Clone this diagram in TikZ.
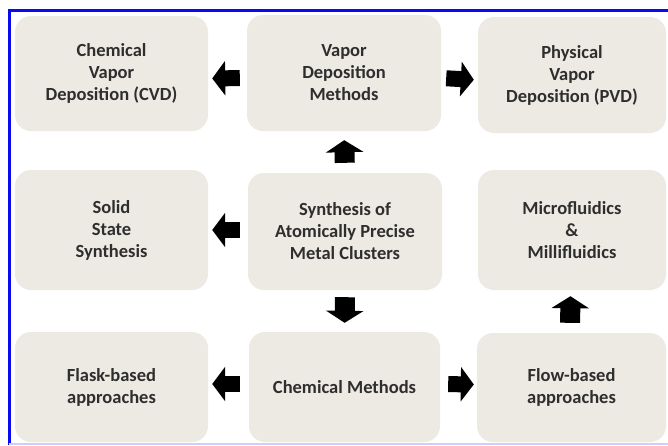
\documentclass[tikz,border=0pt]{standalone}
\usepackage{fontspec}
\setmainfont{Carlito}
\usetikzlibrary{arrows.meta}
\definecolor{boxfill}{HTML}{ECEAE2}
\definecolor{frameblue}{HTML}{0A0AF0}
\tikzset{
  box/.style={fill=boxfill, rounded corners=16pt, align=center,
    font=\fontsize{18.5}{22}\selectfont\bfseries, text=black!82, inner sep=0pt},
  harrow/.style={line width=16pt, -{Triangle[length=13pt,width=34pt]}},
  varrow/.style={line width=20pt, -{Triangle[length=12pt,width=37pt]}}
}
\begin{document}
\begin{tikzpicture}[x=1pt,y=-1pt]
\useasboundingbox (0,0) rectangle (668,445);
% frame
\draw[frameblue, line width=3pt] (9,445) -- (9,10) -- (668,10);
\draw[frameblue!20, line width=2pt] (9,444) -- (668,444);
% boxes
\node[box, minimum width=193pt, minimum height=115pt] (cvd) at (111.5,73.5) {Chemical\\Vapor\\Deposition (CVD)};
\node[box, minimum width=194pt, minimum height=116pt] (vdm) at (344,73) {Vapor\\Deposition\\Methods};
\node[box, minimum width=188pt, minimum height=116pt] (pvd) at (572,75) {Physical\\Vapor\\Deposition (PVD)};
\node[box, minimum width=193pt, minimum height=120pt] (solid) at (111.5,230) {Solid\\State\\Synthesis};
\node[box, minimum width=194pt, minimum height=117pt] (synth) at (345,231.5) {Synthesis of\\Atomically Precise\\Metal Clusters};
\node[box, minimum width=188pt, minimum height=120pt] (micro) at (572,230) {Microfluidics\\\&\\Millifluidics};
\node[box, minimum width=193pt, minimum height=110pt] (flask) at (111.5,387) {Flask-based\\approaches};
\node[box, minimum width=191pt, minimum height=110pt] (chem) at (344.5,387) {Chemical Methods};
\node[box, minimum width=189pt, minimum height=109pt] (flow) at (571.5,387.5) {Flow-based\\approaches};
% arrows
\draw[harrow, shorten <=7pt, shorten >=4pt] ([yshift=-5pt]vdm.west) -- ([yshift=-5pt]cvd.east);
\draw[harrow, shorten <=5pt, shorten >=4pt] ([yshift=-5pt]vdm.east) -- ([yshift=-5pt]pvd.west);
\draw[harrow, shorten <=8pt, shorten >=4pt] (synth.west |- solid.east) -- (solid.east);
\draw[varrow, shorten <=10pt, shorten >=9pt] (synth.north) -- (vdm.south);
\draw[varrow, shorten <=7pt, shorten >=9pt] (synth.south) -- (chem.north);
\draw[varrow, shorten <=10pt, shorten >=6pt] ([xshift=-1.5pt]flow.north) -- ([xshift=-1.5pt]micro.south);
\draw[harrow, shorten <=9pt, shorten >=4pt] ([yshift=3pt]chem.west) -- ([yshift=3pt]flask.east);
\draw[harrow, shorten <=8pt, shorten >=3pt] ([yshift=3pt]chem.east) -- ([yshift=3pt]flow.west);
\end{tikzpicture}
\end{document}
